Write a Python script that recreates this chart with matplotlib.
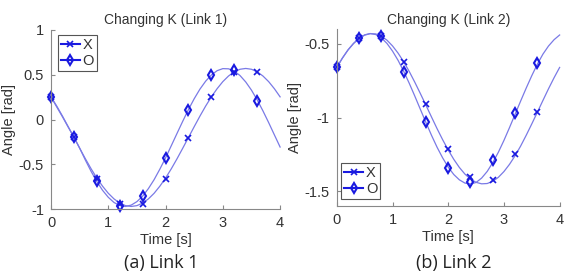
import matplotlib
matplotlib.use("Agg")
import matplotlib.pyplot as plt
from matplotlib.lines import Line2D

# ---- data ----
t_line = [round(0.1 * i, 1) for i in range(41)]
t_mark = [0.0, 0.4, 0.8, 1.2, 1.6, 2.0, 2.4, 2.8, 3.2, 3.6]

link1_x_line = [0.253, 0.150, 0.038, -0.080, -0.200, -0.320, -0.438, -0.550, -0.653, -0.744,
                -0.823, -0.886, -0.932, -0.961, -0.970, -0.961, -0.932, -0.886, -0.823, -0.744,
                -0.653, -0.550, -0.438, -0.320, -0.200, -0.080, 0.038, 0.150, 0.253, 0.344,
                0.423, 0.486, 0.532, 0.561, 0.570, 0.561, 0.532, 0.486, 0.423, 0.344, 0.253]
link1_o_line = [0.250, 0.140, 0.030, -0.085, -0.195, -0.319, -0.453, -0.579, -0.692, -0.790,
                -0.868, -0.926, -0.960, -0.970, -0.955, -0.916, -0.855, -0.771, -0.671, -0.554,
                -0.428, -0.292, -0.155, -0.019, 0.112, 0.232, 0.339, 0.428, 0.497, 0.545,
                0.568, 0.566, 0.540, 0.491, 0.419, 0.328, 0.219, 0.097, -0.034, -0.171, -0.307]
link1_x_mark = [0.25, -0.20, -0.66, -0.94, -0.94, -0.66, -0.21, 0.25, 0.53, 0.53]
link1_o_mark = [0.25, -0.20, -0.69, -0.97, -0.85, -0.43, 0.11, 0.50, 0.55, 0.21]

link2_x_line = [-0.660, -0.597, -0.542, -0.497, -0.463, -0.441, -0.431, -0.433, -0.448, -0.475,
                -0.514, -0.563, -0.621, -0.687, -0.760, -0.837, -0.916, -0.996, -1.075, -1.150,
                -1.220, -1.283, -1.338, -1.383, -1.417, -1.439, -1.449, -1.447, -1.432, -1.405,
                -1.366, -1.317, -1.259, -1.193, -1.120, -1.043, -0.964, -0.884, -0.805, -0.730, -0.660]
link2_o_line = [-0.660, -0.597, -0.542, -0.498, -0.463, -0.439, -0.430, -0.437, -0.460, -0.497,
                -0.549, -0.612, -0.686, -0.767, -0.854, -0.944, -1.033, -1.120, -1.201, -1.273,
                -1.336, -1.386, -1.422, -1.444, -1.450, -1.440, -1.410, -1.365, -1.305, -1.235,
                -1.155, -1.068, -0.978, -0.888, -0.800, -0.716, -0.638, -0.570, -0.515, -0.472, -0.440]
link2_x_mark = [-0.66, -0.46, -0.45, -0.62, -0.91, -1.21, -1.40, -1.42, -1.25, -0.96]
link2_o_mark = [-0.66, -0.46, -0.45, -0.69, -1.03, -1.34, -1.44, -1.29, -0.97, -0.63]

titles = ["Changing K (Link 1)", "Changing K (Link 2)"]
captions = ["(a) Link 1", "(b) Link 2"]
legend_labels = ["X", "O"]
xticks = [0, 1, 2, 3, 4]
yticks1 = [-1, -0.5, 0, 0.5, 1]
yticks1_lbl = ["-1", "-0.5", "0", "0.5", "1"]
yticks2 = [-1.5, -1, -0.5]
yticks2_lbl = ["-1.5", "-1", "-0.5"]

# ---- style ----
line_c = "#7a7ae6"
mark_c = "#1a1ae0"
txt_c = "#333333"
plt.rcParams["font.family"] = ["Liberation Sans", "DejaVu Sans"]

fig = plt.figure(figsize=(5.67, 2.77), dpi=100)
ax1 = fig.add_axes([0.090, 0.245, 0.404, 0.647])
ax2 = fig.add_axes([0.594, 0.256, 0.393, 0.639])


def style(ax, yt, ytl, ylim, title):
    ax.set_xlim(0, 4)
    ax.set_ylim(*ylim)
    ax.set_xticks(xticks)
    ax.set_xticklabels([str(v) for v in xticks])
    ax.set_yticks(yt)
    ax.set_yticklabels(ytl)
    for s in ["top", "right"]:
        ax.spines[s].set_visible(False)
    for s in ["left", "bottom"]:
        ax.spines[s].set_color("#888888")
        ax.spines[s].set_linewidth(0.8)
    ax.tick_params(direction="in", length=3, color="#888888", labelsize=10.5,
                   labelcolor=txt_c, pad=5)
    ax.set_title(title, fontsize=10, color=txt_c, pad=4)
    ax.set_xlabel("Time [s]", fontsize=10.5, color=txt_c, labelpad=2)
    ax.set_ylabel("Angle [rad]", fontsize=10.5, color=txt_c, labelpad=2)


def draw(ax, xl, ol, xm, om):
    ax.plot(t_line, xl, color=line_c, lw=0.9, clip_on=False)
    ax.plot(t_line, ol, color=line_c, lw=0.9, clip_on=False)
    ax.plot(t_mark, xm, ls="none", marker="x", ms=4.5, mew=1.2, color=mark_c, clip_on=False)
    ax.plot(t_mark, om, ls="none", marker="d", ms=5.5, mew=1.5, mfc="none", mec=mark_c,
            clip_on=False)


def legend(ax, loc, anchor):
    h = [Line2D([], [], color=mark_c, lw=1.5, marker="x", ms=4.5, mew=1.2),
         Line2D([], [], color=mark_c, lw=1.5, marker="d", ms=5.5, mew=1.5, mfc="none")]
    lg = ax.legend(h, legend_labels, loc=loc, bbox_to_anchor=anchor, fontsize=10.5,
                   handlelength=1.3, handletextpad=0.2, borderpad=0.2, labelspacing=0.15,
                   borderaxespad=0.0, fancybox=False, framealpha=1, edgecolor="#555555")
    lg.get_frame().set_linewidth(0.8)
    for t in lg.get_texts():
        t.set_color(txt_c)


draw(ax1, link1_x_line, link1_o_line, link1_x_mark, link1_o_mark)
style(ax1, yticks1, yticks1_lbl, (-1, 1), titles[0])
legend(ax1, "upper left", (0.03, 0.97))

draw(ax2, link2_x_line, link2_o_line, link2_x_mark, link2_o_mark)
style(ax2, yticks2, yticks2_lbl, (-1.6, -0.4), titles[1])
legend(ax2, "lower left", (0.02, 0.04))

fig.text(0.285, 0.05, captions[0], ha="center", va="center", fontsize=13,
         color="#222222", family=["Open Sans", "DejaVu Sans"])
fig.text(0.80, 0.05, captions[1], ha="center", va="center", fontsize=13,
         color="#222222", family=["Open Sans", "DejaVu Sans"])

fig.savefig("out.png", dpi=100, facecolor="white")
